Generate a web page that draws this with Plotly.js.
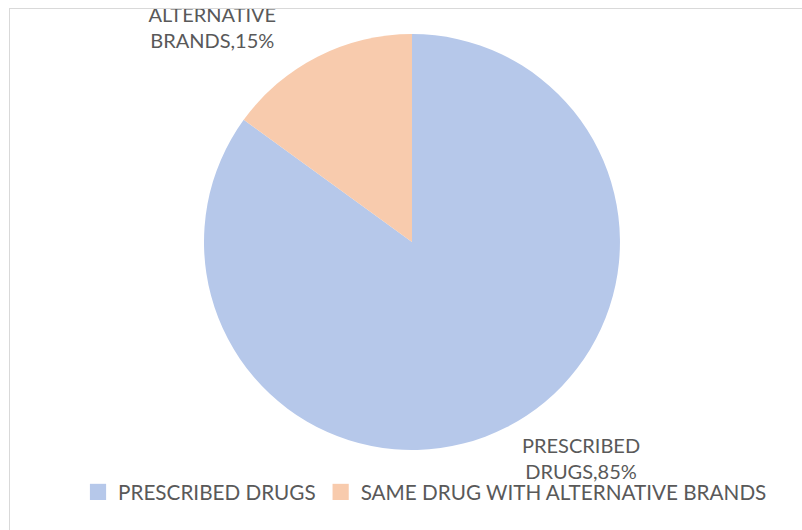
<!DOCTYPE html>
<html>
<head>
<meta charset="utf-8">
<script src="https://cdn.plot.ly/plotly-3.0.1.min.js"></script>
<style>
  html, body { margin:0; padding:0; background:#ffffff; width:802px; height:530px; overflow:hidden; }
  #frame { position:absolute; left:9px; top:8px; width:793px; height:522px; border-top:1px solid #d9d9d9; border-left:1px solid #d9d9d9; box-sizing:border-box; overflow:hidden; }
  #chart { width:792px; height:521px; }
</style>
</head>
<body>
<div id="frame"><div id="chart"></div></div>
<script>
const categories = ["PRESCRIBED DRUGS", "SAME DRUG WITH ALTERNATIVE BRANDS"];
const shares = [85, 15];
const labelLines = [["PRESCRIBED", "DRUGS"], ["SAME DRUG WITH", "ALTERNATIVE", "BRANDS"]];
const sliceColors = ["#b6c8ea", "#f8cbad"];

const textColor = "#595959";
const fontFamily = "Lato, 'Noto Sans', sans-serif";

const trace = {
  type: "pie",
  labels: categories,
  values: shares,
  sort: false,
  direction: "clockwise",
  rotation: 0,
  textinfo: "none",
  hoverinfo: "label+percent",
  marker: { colors: sliceColors, line: { width: 0 } },
  domain: { x: [0.2449, 0.7702], y: [0.1536, 0.952] }
};

const labelPos = [
  { x: 0.721, y: 0.138 },
  { x: 0.2563, y: 0.990 }
];

const annotations = categories.map((c, i) => ({
  xref: "paper", yref: "paper",
  x: labelPos[i].x, y: labelPos[i].y,
  xanchor: "center", yanchor: "middle",
  showarrow: false,
  align: "center",
  text: labelLines[i].slice(0, -1).concat([labelLines[i][labelLines[i].length - 1] + "," + shares[i] + "%"]).join("<br>"),
  font: { family: fontFamily, size: 20, color: textColor }
}));

const layout = {
  width: 792, height: 521,
  margin: { l: 0, r: 0, t: 0, b: 0 },
  paper_bgcolor: "#ffffff",
  showlegend: true,
  legend: {
    orientation: "h",
    x: 0.524, xanchor: "center",
    y: 0.073, yanchor: "middle",
    font: { family: fontFamily, size: 20.7, color: textColor },
    traceorder: "normal"
  },
  annotations: annotations
};

Plotly.newPlot("chart", [trace], layout, { displayModeBar: false, staticPlot: true }).then(gd => {
  gd.querySelectorAll(".legendpoints path").forEach(p => {
    const t = p.getAttribute("transform") || "";
    p.setAttribute("transform", t + " scale(1.35)");
  });
});
</script>
</body>
</html>
